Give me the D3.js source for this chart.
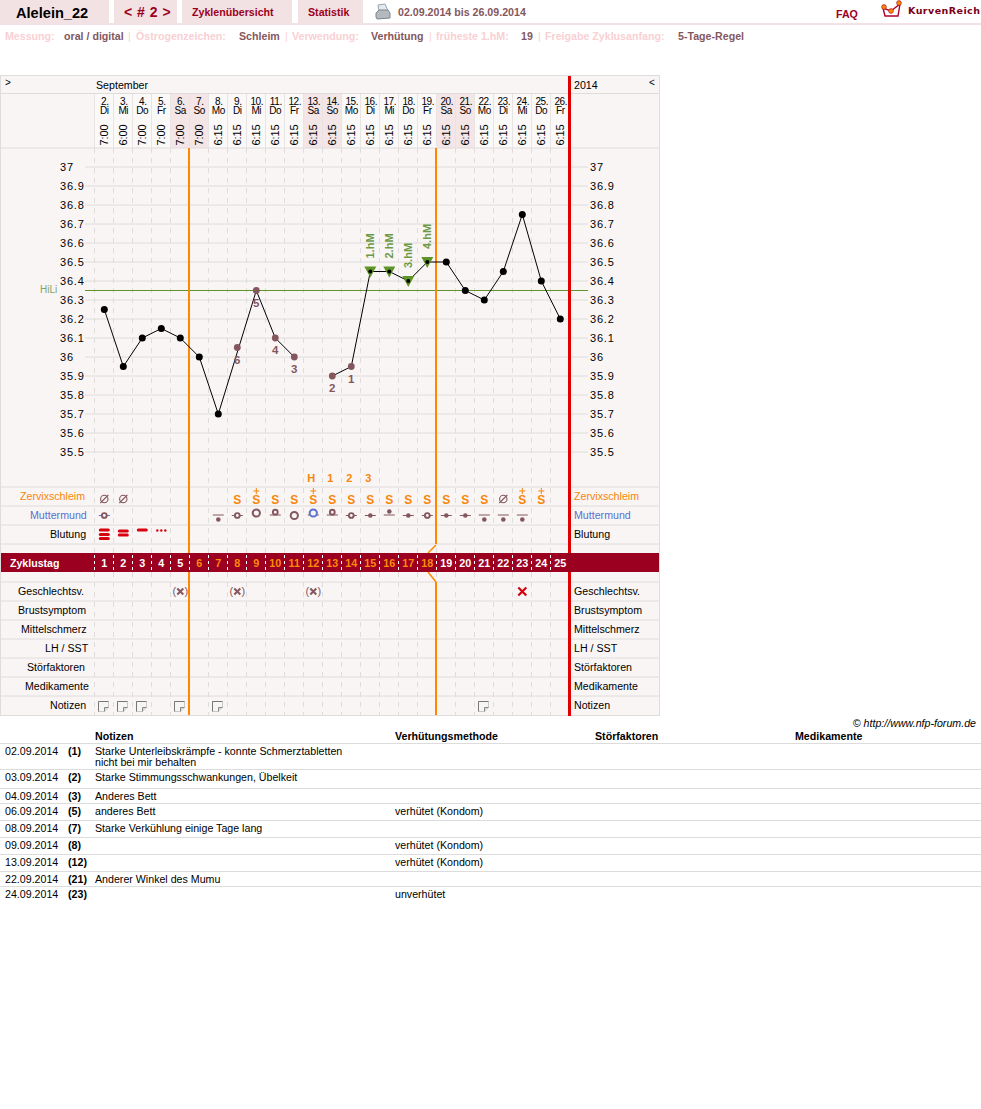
<!DOCTYPE html>
<html><head><meta charset="utf-8">
<script src="https://cdn.jsdelivr.net/npm/d3@7"></script>
<style>html,body{margin:0;padding:0;background:#fff}svg{display:block}text{font-family:"Liberation Sans",Arial,sans-serif}</style>
</head><body><svg id="c" width="981" height="1109"></svg>
<script>
const days=[2,3,4,5,6,7,8,9,10,11,12,13,14,15,16,17,18,19,20,21,22,23,24,25,26];
const weekdays=["Di","Mi","Do","Fr","Sa","So","Mo","Di","Mi","Do","Fr","Sa","So","Mo","Di","Mi","Do","Fr","Sa","So","Mo","Di","Mi","Do","Fr"];
const times=["7:00","6:00","7:00","7:00","7:00","7:00","6:15","6:15","6:15","6:15","6:15","6:15","6:15","6:15","6:15","6:15","6:15","6:15","6:15","6:15","6:15","6:15","6:15","6:15","6:15"];
const temps=[36.25,35.95,36.1,36.15,36.1,36.0,35.7,36.05,36.35,36.1,36.0,null,35.9,35.95,36.45,36.45,36.4,36.5,36.5,36.35,36.3,36.45,36.75,36.4,36.2];
const tempTicks=[37,36.9,36.8,36.7,36.6,36.5,36.4,36.3,36.2,36.1,36,35.9,35.8,35.7,35.6,35.5];
const coverLine=36.35;
const excludedFromLine=[7];
const sixLowCounts={7:"6",8:"5",9:"4",10:"3",12:"2",13:"1"};
const peakDays={14:"1.hM",15:"2.hM",16:"3.hM",17:"4.hM"};
const peakCountDays={11:"H",12:"1",13:"2",14:"3"};
const mucus=["o","o",null,null,null,null,null,"S","S+","S","S","S+","S","S","S","S","S","S","S","S","S","o","S+","S+",null];
const cervix=["sm",null,null,null,null,null,"dl","sm","lh","sb","ln","lb","sb","sm","dm","db","dm","sm","dm","dm","dl","dl","dl",null,null];
const bleeding=[3,2,1,"d"];
const cycleDays=d3.range(1,26);
const intercourseProtected=[4,7,11];
const intercourseUnprotected=[22];
const noteDays=[0,1,2,4,6,20];
const rowLabels=["Zervixschleim","Muttermund","Blutung"];
const lowerLabels=["Geschlechtsv.","Brustsymptom","Mittelschmerz","LH / SST","Störfaktoren","Medikamente","Notizen"];
const tableDates=["02.09.2014","03.09.2014","04.09.2014","06.09.2014","08.09.2014","09.09.2014","13.09.2014","22.09.2014","24.09.2014"];
const tableCycleDays=["(1)","(2)","(3)","(5)","(7)","(8)","(12)","(21)","(23)"];
const tableNotes=[["Starke Unterleibskrämpfe - konnte Schmerztabletten","nicht bei mir behalten"],["Starke Stimmungsschwankungen, Übelkeit"],["Anderes Bett"],["anderes Bett"],["Starke Verkühlung einige Tage lang"],[],[],["Anderer Winkel des Mumu"],[]];
const tableMethods=["","","","verhütet (Kondom)","","verhütet (Kondom)","verhütet (Kondom)","","unverhütet"];
const tableHeads=["Notizen","Verhütungsmethode","Störfaktoren","Medikamente"];

// layout
const MAUVE="#84575e",ORANGE="#f7860a",RED="#e00000",CRIM="#9c0020",GRID="#dfdcdc",PANEL="#f9f5f5",PINK="#f9d0d3",TAB="#f3e2e4",GREEN="#5f9426",BLUE="#5a72cf";
const FS=10.65;
const svg=d3.select("#c");
const x=d3.scaleBand().domain(d3.range(25)).range([94,569]);
const cx=i=>x(i)+x.bandwidth()/2+.8;
const y=d3.scaleLinear().domain([35.5,37]).range([452,167]);
const t=(s,px,py,o={})=>{const e=svg.append("text").attr("x",px).attr("y",py).text(s)
  .attr("font-size",o.size||11).attr("fill",o.fill||"#000").attr("font-weight",o.bold?"bold":"normal");
  if(o.anchor)e.attr("text-anchor",o.anchor); if(o.ls!==undefined)e.attr("letter-spacing",o.ls);
  if(o.style)e.attr("font-style",o.style); if(o.family)e.style("font-family",o.family); return e;};
const hline=(y0,x1,x2,c,w)=>svg.append("line").attr("x1",x1).attr("x2",x2).attr("y1",y0).attr("y2",y0).attr("stroke",c).attr("stroke-width",w||1);
const vline=(x0,y1,y2,c,w,dash)=>{const l=svg.append("line").attr("x1",x0).attr("x2",x0).attr("y1",y1).attr("y2",y2).attr("stroke",c).attr("stroke-width",w||1);if(dash)l.attr("stroke-dasharray",dash);return l;};

// top bar
[[0,109],[114,63],[182,110],[298,65]].forEach(([a,w])=>svg.append("rect").attr("x",a).attr("y",0).attr("width",w).attr("height",23).attr("fill",TAB));
svg.append("rect").attr("x",0).attr("y",23).attr("width",981).attr("height",2).attr("fill",TAB);
t("Alelein_22",16,18,{size:14.6,bold:true});
t("< # 2 >",124,17,{size:14,bold:true,fill:CRIM,ls:.5});
t("Zyklenübersicht",192,16,{size:FS,bold:true,fill:CRIM});
t("Statistik",308,16,{size:FS,bold:true,fill:CRIM});
t("02.09.2014 bis 26.09.2014",398,16,{size:FS,bold:true,fill:MAUVE});
t("FAQ",836,18,{size:FS,bold:true,fill:CRIM});
t("KurvenReich",908,14,{size:9.5,bold:true,fill:"#7c0018",family:"'DejaVu Sans'",ls:.45});
// printer icon
const pr=svg.append("g").attr("transform","translate(376,4)");
pr.append("path").attr("d","M3 7 L2 1 L9 0 L12 7Z").attr("fill","#e4eaf2").attr("stroke","#9aa4b0");
pr.append("path").attr("d","M0 9 L3 6 L12 6 L14 9 L14 14 L1 15 L0 13Z").attr("fill","#b4b9bf").attr("stroke","#7f858c");
// logo
const lg=svg.append("g").attr("transform","translate(882,0)");
lg.append("path").attr("d","M1 8 L3 16 L16 16 L18 4 L9 11 Z").attr("fill","none").attr("stroke","#b0002a").attr("stroke-width",1.4);
[[2,7],[9,11],[17,3]].forEach(p=>lg.append("circle").attr("cx",p[0]).attr("cy",p[1]).attr("r",2.4).attr("fill","#f28c00").attr("stroke","#b0002a").attr("stroke-width",.6));

// info line
[["Messung:",5,0],["oral / digital",64,1],["|",128,2],["Östrogenzeichen:",136,0],["Schleim",239,1],["|",285,2],["Verwendung:",292,0],["Verhütung",371,1],["|",429,2],["früheste 1.hM:",436,0],["19",521,1],["|",538,2],["Freigabe Zyklusanfang:",545,0],["5-Tage-Regel",678,1]]
 .forEach(([s,a,v])=>t(s,a,40,{size:FS,bold:v<2,fill:v===1?MAUVE:PINK}));

// panel
svg.append("rect").attr("x",.5).attr("y",75.5).attr("width",659).attr("height",640).attr("fill",PANEL).attr("stroke",GRID);
// header cells
svg.append("rect").attr("x",94).attr("y",94).attr("width",475).attr("height",54).attr("fill","#fbf8f8");
d3.range(25).filter(i=>weekdays[i]==="Sa"||weekdays[i]==="So").forEach(i=>svg.append("rect").attr("x",x(i)).attr("y",94).attr("width",x.bandwidth()).attr("height",54).attr("fill","#f4e5e7"));
[93.5,148,487,506,525,544,582,601,620,639,658,677,696].forEach(v=>hline(v,1,659,GRID));
// vertical dashes
const sepXs=d3.range(25).map(i=>x(i));
sepXs.forEach(a=>{
  vline(a+.5,94,148,"#e9e4e4");
  vline(a+.5,148,553,GRID,1,"5 5");
  vline(a+.5,572,715,GRID,1,"5 5");
});
// temp grid
tempTicks.forEach(v=>{hline(y(v),85,569,GRID);hline(y(v),570,588,GRID);});
// axes
const axL=svg.append("g").attr("transform","translate(85,0)").call(d3.axisLeft(y).tickValues(tempTicks).tickSize(0).tickFormat(d=>String(d)));
axL.select(".domain").remove();
axL.selectAll("text").attr("x",-25).attr("text-anchor","start").attr("font-size",11).attr("letter-spacing",.8).attr("fill","#000").style("font-family","'Liberation Sans'");
const axR=svg.append("g").attr("transform","translate(590,0)").call(d3.axisRight(y).tickValues(tempTicks).tickSize(0).tickPadding(0).tickFormat(d=>String(d)));
axR.select(".domain").remove();
axR.selectAll("text").attr("x",0).attr("font-size",11).attr("letter-spacing",.8).attr("fill","#000").style("font-family","'Liberation Sans'");
t(">",5,86,{size:10});t("<",649,86,{size:10});
t("September",96,89,{size:FS});t("2014",574,89,{size:FS});
// header labels
days.forEach((d,i)=>{
 t(d+".",cx(i)+.5,105,{size:10,anchor:"middle",ls:-.4});
 t(weekdays[i],cx(i),114,{size:10,anchor:"middle",ls:-.4});
 t(times[i],0,0,{size:11,anchor:"middle",ls:-.1}).attr("transform",`translate(${cx(i)+4},135) rotate(-90)`);
});
// cover line
hline(y(coverLine),85,588,GREEN);
t("HiLi",40,293,{size:10,fill:"#7fa566"});

// orange / red verticals
vline(189,148,553,"#ff8800",2);vline(189,572,715,"#ff8800",2);
vline(436,148,544,"#ff8800",2);vline(436,582,715,"#ff8800",2);
svg.append("path").attr("d","M436 545 L428 553 M428 572 L436 582").attr("stroke","#ff8800").attr("stroke-width",1.5).attr("fill","none");
// band
svg.append("rect").attr("x",1).attr("y",553).attr("width",658).attr("height",19).attr("fill","#9c0020");
vline(569.5,76,553,RED,3);vline(569.5,572,716,RED,3);
sepXs.forEach(a=>vline(a+.5,555,571,"#fff",1,"3 3"));
t("Zyklustag",10,567,{bold:true,fill:"#fff",size:10.6});
cycleDays.forEach((d,i)=>t(d,cx(i),567,{bold:true,anchor:"middle",fill:(i>=5&&i<=17)?"#f98a0a":"#fff",size:10.8}));

// row labels
[[20,"#f7860a"],[30,BLUE],[50,"#000"]].forEach((c,i)=>{t(rowLabels[i],c[0],500+19*i,{size:FS,fill:c[1]});t(rowLabels[i],574,500+19*i,{size:FS,fill:c[1]});});
[18,18,21,45,27,25,50].forEach((a,i)=>{t(lowerLabels[i],a,595+19*i,{size:FS});t(lowerLabels[i],574,595+19*i,{size:FS});});

// temperature line
const lineGen=d3.line().defined(d=>d.v!==null).x(d=>cx(d.i)).y(d=>y(d.v));
const lineData=temps.map((v,i)=>({i,v})).filter(d=>!excludedFromLine.includes(d.i));
svg.append("path").attr("d",lineGen(lineData)).attr("fill","none").attr("stroke","#000").attr("stroke-width",1);
// peak triangles
svg.selectAll(".tri").data(Object.keys(peakDays).map(Number)).enter().append("path")
 .attr("d",i=>`M${cx(i)-6} ${y(temps[i])-5} H${cx(i)+6} L${cx(i)} ${y(temps[i])+6} Z`).attr("fill",GREEN);
// dots
temps.forEach((v,i)=>{ if(v===null)return;
 const isLow=sixLowCounts[i]!==undefined, isPeak=peakDays[i]!==undefined;
 svg.append("circle").attr("cx",cx(i)).attr("cy",y(v)).attr("r",isPeak?2:isLow?3.4:3.5).attr("fill",isLow?MAUVE:"#000");
});
Object.keys(sixLowCounts).forEach(k=>{const i=+k;t(sixLowCounts[i],cx(i),y(temps[i])+16,{size:11.5,bold:true,fill:MAUVE,anchor:"middle"});});
Object.keys(peakDays).forEach(k=>{const i=+k;t(peakDays[i],0,0,{bold:true,fill:"#6d9a45",size:11}).attr("transform",`translate(${cx(i)+4},${y(temps[i])-13}) rotate(-90)`);});
Object.keys(peakCountDays).forEach(k=>{const i=+k;t(peakCountDays[i],cx(i)-2,482,{bold:true,fill:ORANGE,anchor:"middle"});});

// mucus
mucus.forEach((m,i)=>{ if(!m)return;
 if(m==="o"){svg.append("circle").attr("cx",cx(i)).attr("cy",499).attr("r",3.7).attr("fill","none").attr("stroke",MAUVE).attr("stroke-width",1.1);
   svg.append("line").attr("x1",cx(i)-4).attr("x2",cx(i)+4).attr("y1",503).attr("y2",495).attr("stroke",MAUVE).attr("stroke-width",1.1);return;}
 t("S",cx(i),503.5,{bold:true,size:12,fill:ORANGE,anchor:"middle"});
 if(m==="S+")svg.append("path").attr("d",`M${cx(i)-3} 491 H${cx(i)+3} M${cx(i)} 488 V494`).attr("stroke",ORANGE).attr("fill","none");
});
// cervix
cervix.forEach((c,i)=>{ if(!c)return;
 const size=c[0],pos=c[1];
 let cyy=pos==="l"?519.5:pos==="b"?512.2:515.5;
 let col=MAUVE,ring=MAUVE;
 if(i===11){ring=BLUE;cyy=513;} if(i===0){col=BLUE;}
 if(i===8)cyy=513; if(i===15)cyy=511.5;
 if(pos==="m")hline(515.5,cx(i)-5.5,cx(i)+5.5,col);
 if(pos==="l")hline(515,cx(i)-5.5,cx(i)+5.5,MAUVE);
 if(pos==="b")hline(515,cx(i)-5.5,cx(i)+5.5,MAUVE);
 if(size==="d")svg.append("circle").attr("cx",cx(i)).attr("cy",cyy).attr("r",2.3).attr("fill",MAUVE);
 else svg.append("circle").attr("cx",cx(i)).attr("cy",cyy).attr("r",size==="l"?3.6:2.4).attr("fill",PANEL).attr("stroke",ring).attr("stroke-width",size==="l"?2:1.9);
});
// bleeding
bleeding.forEach((b,i)=>{
 if(b==="d"){[-4,0,4].forEach(o=>svg.append("circle").attr("cx",cx(i)+o).attr("cy",530.5).attr("r",1.2).attr("fill","#d8000f"));return;}
 const ys=b===3?[530,534.5,538.5]:b===2?[531,535]:[530];
 ys.forEach(v=>svg.append("rect").attr("x",cx(i)-5.5).attr("y",v-1.5).attr("width",11).attr("height",3).attr("rx",1.5).attr("fill","#d8000f"));
});
// intercourse
intercourseProtected.forEach(i=>{t("(",cx(i)-6,595,{size:11,fill:MAUVE,anchor:"middle"});t(")",cx(i)+6,595,{size:11,fill:MAUVE,anchor:"middle"});
 svg.append("path").attr("d",`M${cx(i)-3} 588.5 L${cx(i)+3} 594.5 M${cx(i)+3} 588.5 L${cx(i)-3} 594.5`).attr("stroke",MAUVE).attr("stroke-width",2).attr("fill","none");});
intercourseUnprotected.forEach(i=>svg.append("path").attr("d",`M${cx(i)-4} 587.5 L${cx(i)+4} 595.5 M${cx(i)+4} 587.5 L${cx(i)-4} 595.5`).attr("stroke","#d4000f").attr("stroke-width",2.2).attr("fill","none"));
// notes
noteDays.forEach(i=>{const a=Math.round(cx(i)-6)+.5,b=701.5;
 svg.append("path").attr("d",`M${a} ${b} H${a+10} V${b+6} L${a+6} ${b+10} H${a} Z`).attr("fill","#f5f5f3").attr("stroke","#c8c8c8");
 svg.append("path").attr("d",`M${a} ${b+10} V${b} H${a+10}`).attr("fill","none").attr("stroke","#777");
 svg.append("path").attr("d",`M${a+10} ${b+6} H${a+6} V${b+10}`).attr("fill","#ddd").attr("stroke","#888");
});
// copyright
t("© http://www.nfp-forum.de",976,727,{size:FS,style:"italic",anchor:"end"});
// table
[95,395,595,795].forEach((a,i)=>t(tableHeads[i],a,740,{size:FS,bold:true}));
const tableRules=[743.5,769.5,788.5,803.5,820.5,837.5,854.5,871.5,886.5];
tableRules.forEach(v=>hline(v,0,981,"#dcdcdc"));
tableDates.forEach((d,i)=>{const b=tableRules[i]+11.5;
 t(d,5,b,{size:FS});t(tableCycleDays[i],68,b,{size:FS,bold:true});
 tableNotes[i].forEach((n,j)=>t(n,95,b+j*11,{size:FS}));
 if(tableMethods[i])t(tableMethods[i],395,b,{size:FS});
});
</script></body></html>
